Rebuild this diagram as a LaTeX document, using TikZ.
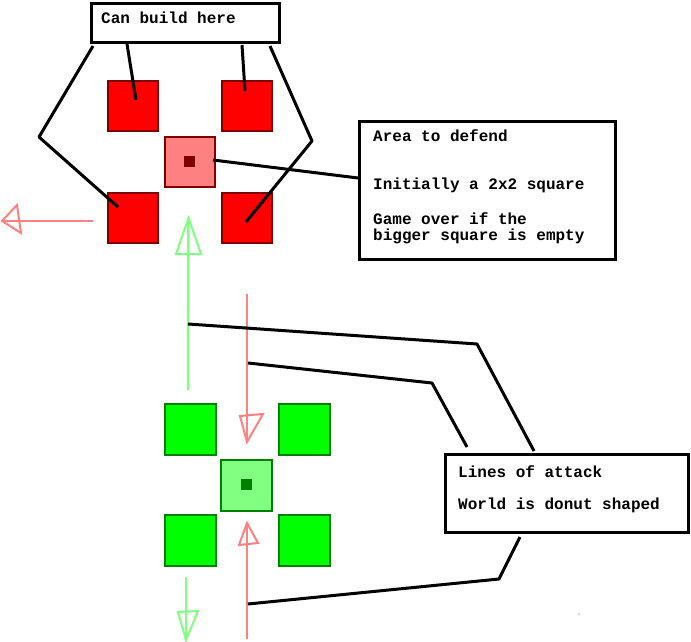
\documentclass[tikz,border=0pt]{standalone}
\usepackage{fontspec}
\setmonofont{Liberation Mono}
\definecolor{sqred}{HTML}{FF0000}
\definecolor{sqredb}{HTML}{800000}
\definecolor{sqpink}{HTML}{FF8080}
\definecolor{sqgreen}{HTML}{00FF00}
\definecolor{sqgreenb}{HTML}{008000}
\definecolor{sqlgreen}{HTML}{80FF80}
\begin{document}
\begin{tikzpicture}[x=1pt,y={(0pt,-1pt)},
  redsq/.style={draw=sqredb, fill=sqred, line width=2pt, minimum size=50pt, inner sep=0pt},
  pinksq/.style={draw=sqredb, fill=sqpink, line width=2pt, minimum size=50pt, inner sep=0pt},
  greensq/.style={draw=sqgreenb, fill=sqgreen, line width=2pt, minimum size=51pt, inner sep=0pt},
  lgreensq/.style={draw=sqgreenb, fill=sqlgreen, line width=2pt, minimum size=51pt, inner sep=0pt},
  dot/.style={inner sep=0pt, minimum size=11pt},
  box/.style={draw=black, fill=white, line width=3pt, inner sep=0pt},
  lbl/.style={font=\ttfamily\bfseries\fontsize{16}{16}\selectfont, anchor=base west, inner sep=0pt},
  conn/.style={draw=black, line width=3pt, line join=round},
  redarr/.style={draw=sqpink, line width=2.5pt},
  greenarr/.style={draw=sqlgreen, line width=2.5pt},
  redhead/.style={draw=sqpink, line width=2pt, line join=miter},
  greenhead/.style={draw=sqlgreen, line width=2pt, line join=miter}]
\useasboundingbox (0,0) rectangle (691,642);

% ---------- red base ----------
\node[redsq] (r1) at (133,106) {};
\node[redsq] (r2) at (247,106) {};
\node[pinksq] (r3) at (189.5,162) {};
\node[redsq] (r4) at (133,218) {};
\node[redsq] (r5) at (247,218) {};
\node[dot, fill=sqredb] (rc) at (189.5,161.5) {};

% ---------- green base ----------
\node[greensq] (g1) at (190,429) {};
\node[greensq] (g2) at (304,429) {};
\node[lgreensq] (g3) at (246.5,485) {};
\node[greensq] (g4) at (190,540.5) {};
\node[greensq] (g5) at (304,540.5) {};
\node[dot, fill=sqgreenb] (gc) at (246.5,484.5) {};

% ---------- boxes ----------
\node[box, minimum width=188pt, minimum height=39pt] (build) at (185.5,23) {};
\node[lbl] (buildt) at (101,24) {Can build here};

\node[box, minimum width=256pt, minimum height=138pt] (area) at (487.5,190.5) {};
\node[lbl] (area1) at (373,141) {Area to defend};
\node[lbl] (area2) at (373,189) {Initially a 2x2 square};
\node[lbl] (area3) at (373,224) {Game over if the};
\node[lbl] (area4) at (373,240) {bigger square is empty};

\node[box, minimum width=243pt, minimum height=78pt] (attack) at (567,493.5) {};
\node[lbl] (attack1) at (458,477) {Lines of attack};
\node[lbl] (attack2) at (458,509) {World is donut shaped};

% ---------- named points ----------
\coordinate (b1s) at (127,44);   \coordinate (b1e) at (136,100);
\coordinate (b2s) at (242,45);   \coordinate (b2e) at (245,91);
\coordinate (bls) at (93,46);    \coordinate (blm) at (39,137);  \coordinate (ble) at (118,207);
\coordinate (brs) at (270,46);   \coordinate (brm) at (312,141); \coordinate (bre) at (246,222);
\coordinate (as) at (213,160);   \coordinate (ae) at (358,178);

% arrows
\coordinate (la0) at (93,221);   \coordinate (la1) at (2,221);
\coordinate (la2) at (17,205);   \coordinate (la3) at (21,233);
\coordinate (gu0) at (188,390);  \coordinate (gu1) at (188.5,218);
\coordinate (gu2) at (176,254);  \coordinate (gu3) at (201,254);
\coordinate (rd0) at (247,294);  \coordinate (rd1) at (247,442);
\coordinate (rd2) at (240,416);  \coordinate (rd3) at (263,414);
\coordinate (ru0) at (247,639);  \coordinate (ru1) at (247,523);
\coordinate (ru2) at (239,545);  \coordinate (ru3) at (258,543);
\coordinate (gd0) at (186,577);  \coordinate (gd1) at (186,640);
\coordinate (gd2) at (178,612);  \coordinate (gd3) at (198,611);

% attack connectors
\coordinate (k1s) at (188,324);  \coordinate (k1m) at (477,344); \coordinate (k1e) at (534,451);
\coordinate (k2s) at (248,363);  \coordinate (k2m) at (432,383); \coordinate (k2e) at (467,447);
\coordinate (k3s) at (248,604);  \coordinate (k3m) at (499,579); \coordinate (k3e) at (520,537);

% ---------- arrows ----------
\draw[redarr] (la0) -- (la1);
\draw[redhead] (la1) -- (la2) -- (la3) -- cycle;
\draw[greenarr] (gu0) -- (gu1);
\draw[greenhead] (gu1) -- (gu2) -- (gu3) -- cycle;
\draw[redarr] (rd0) -- (rd1);
\draw[redhead] (rd1) -- (rd2) -- (rd3) -- cycle;
\draw[redarr] (ru0) -- (ru1);
\draw[redhead] (ru1) -- (ru2) -- (ru3) -- cycle;
\draw[greenarr] (gd0) -- (gd1);
\draw[greenhead] (gd1) -- (gd2) -- (gd3) -- cycle;

% ---------- connectors ----------
\draw[conn] (b1s) -- (b1e);
\draw[conn] (b2s) -- (b2e);
\draw[conn] (bls) -- (blm) -- (ble);
\draw[conn] (brs) -- (brm) -- (bre);
\draw[conn] (as) -- (ae);
\draw[conn] (k1s) -- (k1m) -- (k1e);
\draw[conn] (k2s) -- (k2m) -- (k2e);
\draw[conn] (k3s) -- (k3m) -- (k3e);

% speck
\fill[black!70] (579,614) circle (0.6pt);
\end{tikzpicture}
\end{document}
